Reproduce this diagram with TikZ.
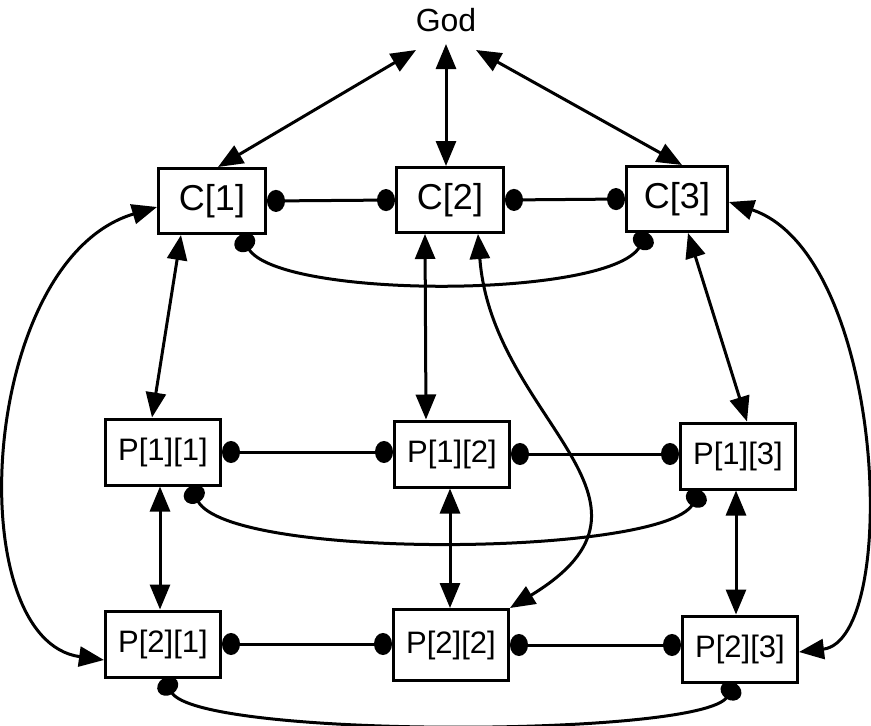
\documentclass[tikz,border=0pt]{standalone}
\usepackage{fontspec}
\setmainfont{Liberation Sans}
\usepackage{tikz}
\usetikzlibrary{arrows.meta,calc}
\tikzset{
    cbox/.style={draw,line width=3pt,inner sep=0pt,minimum width=107pt,minimum height=65pt,font=\fontsize{36}{40}\selectfont},
    pbox/.style={draw,line width=3pt,inner sep=0pt,minimum width=115pt,minimum height=66pt,font=\fontsize{31}{34}\selectfont},
    link/.style={line width=3pt},
    twoway/.style={{Triangle[length=25pt,width=20pt]}-{Triangle[length=25pt,width=20pt]}},
    knobs/.style={{Circle[length=18pt,width=22pt]}-{Circle[length=18pt,width=22pt]}}
}

\begin{document}
\begin{tikzpicture}[x=1pt,y=-1pt]
                    \useasboundingbox (0,0) rectangle (871,726);
                    \node[font=\fontsize{32}{36}\selectfont] (god) at (446,20) {God};
                    \node[cbox] (c1) at (212,201) {C[1]};
                    \node[cbox] (c2) at (450,200) {C[2]};
                    \node[cbox,minimum width=101pt] (c3) at (677,199) {C[3]};
                    \node[pbox] (p11) at (163,452) {P[1][1]};
                    \node[pbox] (p12) at (452,454) {P[1][2]};
                    \node[pbox] (p13) at (738,456) {P[1][3]};
                    \node[pbox] (p21) at (163,644) {P[2][1]};
                    \node[pbox,minimum height=71pt] (p22) at (451,645) {P[2][2]};
                    \node[pbox] (p23) at (740,649) {P[2][3]};
                    \coordinate (m2) at ($(p12.south)+(-2,0)$);
                    \draw[link,twoway] ($(god)+(-30,30)$) -- ($(c1.north)+(6,0)$);
                    \draw[link,twoway] ($(god)+(0,24)$) -- ($(c2.north)+(-4,0)$);
                    \draw[link,twoway] ($(god)+(30,30)$) -- ($(c3.north)+(5,0)$);
                    \draw[link,knobs] (c1.east) -- (c2.west);
                    \draw[link,knobs] (c2.east) -- (c3.west);
                    \draw[link,knobs] ($(c1.south east)+(-27,0)$) .. controls +(40,64) and +(-40,66) .. ($(c3.south west)+(23,0)$);
                    \draw[link,twoway] ($(c1.south west)+(24,0)$) -- ($(p11.north west)+(48,0)$);
                    \draw[link,twoway] ($(c2.south west)+(30,0)$) -- ($(p12.north)+(-26,0)$);
                    \draw[link,twoway] ($(c2.south east)+(-27,0)$) .. controls +(14,186) and +(178,-108) .. (p22.north east);
                    \draw[link,twoway] ($(c3.south west)+(63,0)$) -- ($(p13.north)+(9,0)$);
                    \draw[link,twoway] ($(c1.west)+(0,6)$) .. controls +(-178,53) and +(-145,-20) .. ($(p21.west)+(0,16)$);
                    \draw[link,twoway] ($(c3.east)+(0,3)$) .. controls +(157,53) and +(102,-12) .. ($(p23.east)+(0,3)$);
                    \draw[link,knobs] (p11.east) -- (p11.east -| p12.west);
                    \draw[link,knobs] (p12.east) -- (p12.east -| p13.west);
                    \draw[link,knobs] ($(p11.south east)+(-32,0)$) .. controls +(40,74) and +(-40,66) .. ($(p13.south west)+(22,0)$);
                    \draw[link,twoway] ($(p11.south west)+(56,0)$) -- ($(p21.north west)+(56,0)$);
                    \draw[link,twoway] (m2) -- (m2 |- p22.north);
                    \draw[link,twoway] ($(p13.south)+(-2,0)$) -- ($(p23.north)+(-4,0)$);
                    \draw[link,knobs] (p21.east) -- (p21.east -| p22.west);
                    \draw[link,knobs] (p22.east) -- (p22.east -| p23.west);
                    \draw[link,knobs] (p21.south) .. controls +(37,60) and +(-36,54) .. ($(p23.south)+(-4,0)$);
                \end{tikzpicture}
\end{document}
